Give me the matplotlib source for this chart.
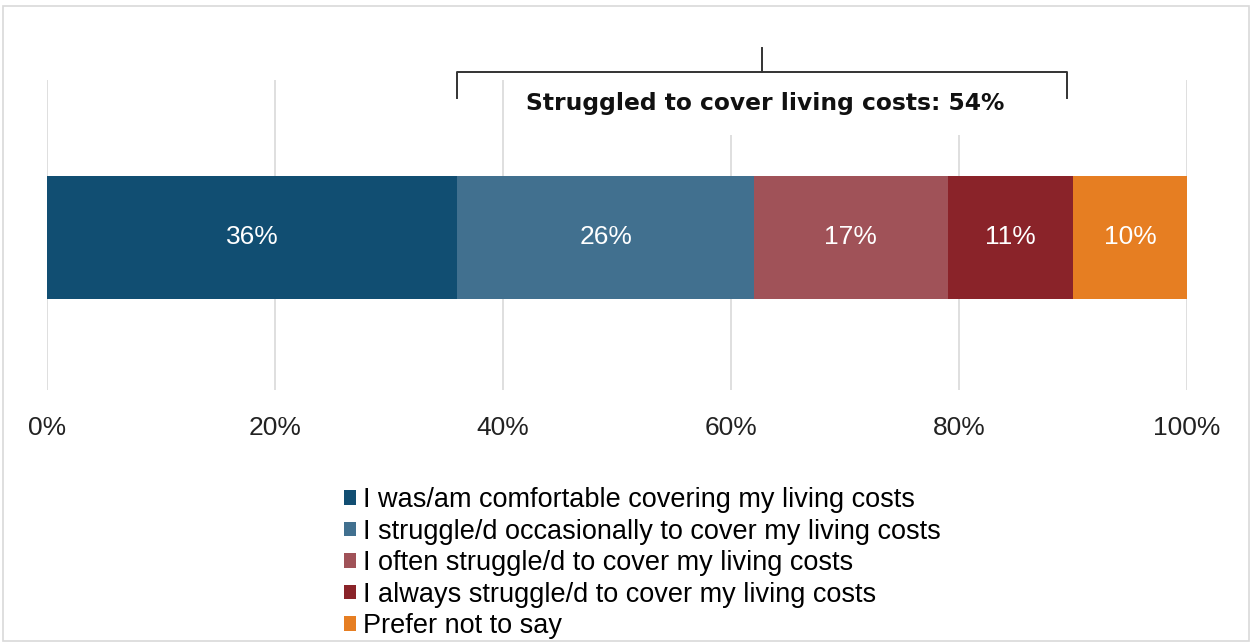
import matplotlib

matplotlib.use("Agg")
import matplotlib.pyplot as plt
from matplotlib.patches import Rectangle

plt.rcParams["font.family"] = ["Liberation Sans", "DejaVu Sans"]

categories = [
    "I was/am comfortable covering my living costs",
    "I struggle/d occasionally to cover my living costs",
    "I often struggle/d to cover my living costs",
    "I always struggle/d to cover my living costs",
    "Prefer not to say",
]
shares = [36, 26, 17, 11, 10]
colors = ["#114e72", "#41708f", "#a05258", "#8a2329", "#e67e22"]
ticks = [0, 20, 40, 60, 80, 100]
bracket_label = "Struggled to cover living costs: 54%"
bracket_span = [36, 89.5]

fig = plt.figure(figsize=(12.53, 6.42), dpi=100)
ax = fig.add_axes([0.0375, 0.3925, 0.9098, 0.4829])

# outer light frame
fig.patches.append(Rectangle((3 / 1253, 1 / 642), 1246 / 1253, 635 / 642,
                             transform=fig.transFigure, fill=False,
                             edgecolor="#d9d9d9", linewidth=1.2))

left = 0
for val, col, cat in zip(shares, colors, categories):
    ax.barh(0, val, left=left, height=0.397, color=col, label=cat, zorder=3)
    ax.text(left + val / 2, 0, f"{val}%", ha="center", va="center",
            color="white", fontsize=19, zorder=4)
    left += val

ax.set_xlim(0, 100)
ax.set_ylim(-0.492, 0.508)
ax.set_xticks(ticks)
ax.set_xticklabels([f"{t}%" for t in ticks], fontsize=19, color="#222222")
ax.set_yticks([])
ax.tick_params(axis="x", length=0, pad=19)
ax.grid(axis="x", color="#d9d9d9", linewidth=1.2, zorder=0)
for s in ax.spines.values():
    s.set_visible(False)

# bracket above the struggling segments
trans = ax.get_xaxis_transform()
x0, x1 = bracket_span
xm = (x0 + x1) / 2
yb, yt, yp = 0.942, 1.026, 1.103
kw = dict(color="#333333", linewidth=1.4, transform=trans, clip_on=False,
          solid_joinstyle="round")
ax.plot([x0, x0, x1, x1], [yb, yt, yt, yb], **kw)
ax.plot([xm, xm], [yt, yp], **kw)
ax.text(63.0, 0.923, bracket_label, transform=trans, ha="center", va="center",
        fontsize=16.8, fontweight="bold", family="DejaVu Sans", color="#111111",
        zorder=5, bbox=dict(facecolor="white", edgecolor="none", pad=14))

fig.legend(loc="upper left", bbox_to_anchor=(0.2635, 0.262), frameon=False,
           fontsize=19.5, handlelength=0.45, handleheight=0.45,
           handletextpad=0.25, labelspacing=0.2, borderpad=0)

fig.savefig("out.png", dpi=100)
